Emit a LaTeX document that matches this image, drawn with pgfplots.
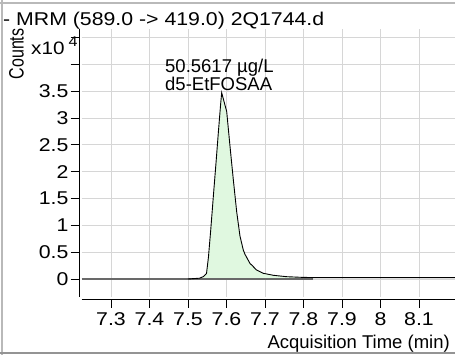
\documentclass[border=0pt]{standalone}
\usepackage{pgfplots}
\pgfplotsset{compat=1.18}
\usepackage{fontspec}
\setmainfont{Liberation Sans}
\newfontfamily\widefont{Liberation Sans}[FakeStretch=1.15]
\definecolor{gridgray}{RGB}{214,214,214}
\definecolor{peakfill}{RGB}{224,248,224}
\definecolor{basegray}{RGB}{105,105,105}
\definecolor{framegray}{RGB}{185,185,185}
\begin{document}
\begin{tikzpicture}
\useasboundingbox (0,0) rectangle (455pt,355pt);
\fill[white] (0,0) rectangle (455pt,355pt);
% frame
\draw[framegray, line width=2pt] (0,352pt) -- (455pt,352pt);
\draw[framegray, line width=2pt] (2pt,0) -- (2pt,355pt);
\draw[framegray!80!black, line width=2pt] (0,2pt) -- (455pt,2pt);
\begin{axis}[
  at={(81.5pt,58pt)}, anchor=south west,
  scale only axis, width=373.5pt, height=267.7pt,
  xmin=7.22338, xmax=8.1935, ymin=-0.3354, ymax=4.6525,
  axis x line*=bottom, axis y line*=left,
  axis line style={-, black, line width=0.9pt},
  axis x line shift=2pt, axis y line shift=2pt,
  xtick={7.3,7.4,7.5,7.6,7.7,7.8,7.9,8.0,8.1},
  xticklabels={\mbox{7.3},\mbox{7.4},\mbox{7.5},\mbox{7.6},\mbox{7.7},\mbox{7.8},\mbox{7.9},\mbox{8},\mbox{8.1}},
  ytick={0,0.5,1,1.5,2,2.5,3,3.5,4,4.5},
  yticklabels={\mbox{0},\mbox{0.5},\mbox{1},\mbox{1.5},\mbox{2},\mbox{2.5},\mbox{3},\mbox{3.5},{},{}},
  tick align=outside, major tick length=9pt,
  tick style={black, line width=0.9pt},
  grid=major, major grid style={draw=gridgray, line width=0.9pt},
  tick label style={font=\widefont\fontsize{18.5}{20}\selectfont},
  yticklabel style={xshift=1.5pt},
  xticklabel style={yshift=-1pt},
  clip=true,
]
% filled peak area
\addplot[fill=peakfill, draw=none] coordinates {
(7.530,0) (7.530,0.015) (7.540,0.045) (7.548,0.10) (7.553,0.40) (7.559,0.91)
(7.5657,1.53) (7.5727,2.16) (7.5787,2.72) (7.5849,3.27) (7.5875,3.47)
(7.6005,3.12) (7.609,2.48) (7.6177,1.85) (7.6265,1.25) (7.635,0.80)
(7.6436,0.54) (7.648,0.46) (7.661,0.29) (7.6655,0.26) (7.678,0.168)
(7.687,0.136) (7.6956,0.106) (7.7216,0.069) (7.756,0.043) (7.791,0.032)
(7.8255,0.024) (7.8255,0)
} \closedcycle;
% integration baseline
\addplot[basegray, line width=1.8pt] coordinates {(7.22338,0) (7.8255,0)};
% chromatogram
\addplot[black, line width=0.9pt] coordinates {
(7.500,0) (7.530,0.015) (7.540,0.045) (7.548,0.10) (7.553,0.40) (7.559,0.91)
(7.5657,1.53) (7.5727,2.16) (7.5787,2.72) (7.5849,3.27) (7.5875,3.47)
(7.6005,3.12) (7.609,2.48) (7.6177,1.85) (7.6265,1.25) (7.635,0.80)
(7.6436,0.54) (7.648,0.46) (7.661,0.29) (7.6655,0.26) (7.678,0.168)
(7.687,0.136) (7.6956,0.106) (7.7216,0.069) (7.756,0.043) (7.791,0.032)
(7.8255,0.026) (7.92,0.025) (8.05,0.025) (8.1935,0.025)
};
\end{axis}
% texts
\node[anchor=base west, inner sep=0pt, font=\widefont\fontsize{18.5}{20}\selectfont] at (3pt,329.7pt) {- MRM (589.0 -> 419.0) 2Q1744.d};
\node[anchor=base, rotate=90, inner sep=0pt] at (23.5pt,301pt) {\scalebox{1}[1.3]{\fontsize{16}{17}\selectfont Counts}};
\node[anchor=base west, inner sep=0pt, font=\widefont\fontsize{18}{20}\selectfont] at (31pt,300pt) {x10\hspace{4pt}\raisebox{8pt}{\fontsize{14}{15}\selectfont 4}};
\node[anchor=base west, inner sep=0pt, font=\fontsize{18.5}{19}\selectfont] at (165pt,282pt) {50.5617 µg/L};
\node[anchor=base west, inner sep=0pt, font=\fontsize{18.5}{19}\selectfont] at (165pt,264pt) {d5-EtFOSAA};
\node[anchor=base east, inner sep=0pt, font=\fontsize{18.5}{20}\selectfont] at (450pt,6.5pt) {Acquisition Time (min)};
\end{tikzpicture}
\end{document}
